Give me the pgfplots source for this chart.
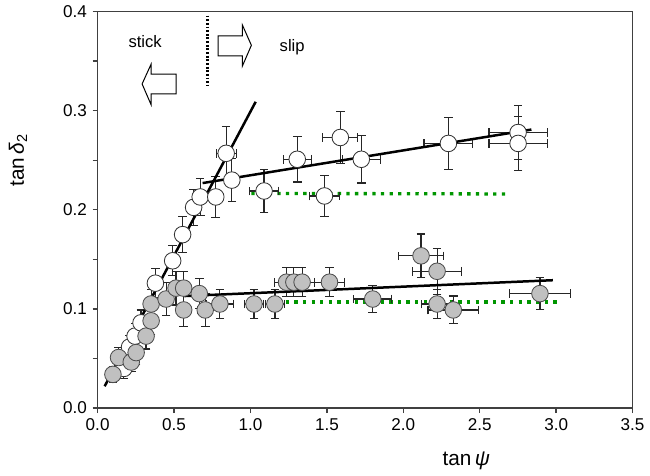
\documentclass[border=0pt]{standalone}
\usepackage{fontspec}
\setmainfont{Liberation Sans}
\usepackage{pgfplots}
\pgfplotsset{compat=1.18}
\definecolor{dotgreen}{RGB}{0,150,0}
\definecolor{markgray}{RGB}{192,192,192}
\definecolor{framegray}{RGB}{64,64,64}

\pgfplotstableread{
x      y       ex     ey
0.172  0.040   0.03   0.010
0.209  0.0616  0.03   0.012
0.245  0.0726  0.03   0.013
0.284  0.086   0.03   0.013
0.378  0.126   0.03   0.015
0.491  0.1486  0.03   0.015
0.556  0.175   0.03   0.018
0.628  0.2025  0.03   0.018
0.671  0.213   0.03   0.019
0.773  0.213   0.03   0.021
0.841  0.257   0.065  0.027
0.878  0.230   0.03   0.022
1.089  0.219   0.094  0.022
1.306  0.251   0.092  0.023
1.484  0.214   0.10   0.021
1.588  0.273   0.114  0.026
1.725  0.251   0.125  0.024
2.295  0.267   0.16   0.026
2.751  0.278   0.19   0.027
2.751  0.267   0.19   0.027
}\opendata

\pgfplotstableread{
x      y       ex     ey
0.10   0.034   0.03   0.008
0.137  0.051   0.03   0.010
0.22   0.0465  0.03   0.010
0.252  0.056   0.03   0.012
0.317  0.0726  0.03   0.013
0.35   0.088   0.03   0.014
0.35   0.105   0.03   0.015
0.448  0.110   0.03   0.017
0.513  0.121   0.03   0.017
0.563  0.121   0.03   0.017
0.563  0.099   0.03   0.017
0.665  0.1155  0.04   0.015
0.704  0.099   0.05   0.017
0.80   0.105   0.087  0.015
1.023  0.105   0.06   0.015
1.16   0.105   0.06   0.015
1.236  0.127   0.08   0.0145
1.284  0.127   0.08   0.0145
1.338  0.127   0.08   0.0145
1.517  0.127   0.10   0.0145
1.80   0.110   0.125  0.014
2.116  0.1536  0.148  0.022
2.221  0.138   0.16   0.023
2.221  0.105   0.10   0.015
2.327  0.099   0.165  0.014
2.894  0.1155  0.20   0.016
}\greydata

\begin{document}
\begin{tikzpicture}
\begin{axis}[
  scale only axis, width=322.2pt, height=238.8pt,
  xmin=0, xmax=3.5, ymin=0, ymax=0.4,
  xtick={0,0.5,1,1.5,2,2.5,3,3.5},
  ytick={0,0.1,0.2,0.3,0.4},
  minor ytick={0.05,0.15,0.25,0.35},
  tick align=outside, tick pos=left,
  major tick length=3pt, minor tick length=3pt,
  axis line style={framegray, line width=0.8pt},
  every tick/.style={framegray, line width=0.8pt},
  tick label style={font=\fontsize{10.3}{12}\selectfont},
  /pgf/number format/assume math mode=true,
  /pgf/number format/.cd, fixed, fixed zerofill, precision=1, /pgfplots/.cd,
  xlabel={tan\,\textit{ψ}},
  ylabel={tan\,\textit{δ}\textsubscript{2}},
  label style={font=\fontsize{12.5}{14}\selectfont},
  xlabel style={at={(axis description cs:0.689,-0.132)}, anchor=center},
  ylabel style={at={(axis description cs:-0.149,0.626)}, anchor=center},
  error bars/error bar style={black!85, line width=0.7pt},
  error bars/error mark options={black!85, rotate=90, mark size=2.6pt, line width=0.7pt},
  errs/.style={only marks, mark=none,
    error bars/.cd, x dir=both, x explicit, y dir=both, y explicit},
]
% green reference levels (behind the points)
\addplot[dotgreen, line width=2pt, dash pattern=on 2pt off 3.2pt] coordinates {(1.006,0.2166) (2.697,0.216)};
\addplot[dotgreen, line width=2pt, dash pattern=on 2pt off 3.2pt] coordinates {(1.23,0.107) (3.01,0.107)};

% error bars first, then the markers on top
\addplot[errs] table[x=x, y=y, x error=ex, y error=ey] {\opendata};
\addplot[errs] table[x=x, y=y, x error=ex, y error=ey] {\greydata};
\addplot[only marks, mark=*, mark size=5pt, mark options={fill=white, draw=black!80, line width=0.5pt}]
  table[x=x, y=y] {\opendata};
\addplot[only marks, mark=*, mark size=5pt, mark options={fill=markgray, draw=black!70, line width=0.5pt}]
  table[x=x, y=y] {\greydata};

% fitted lines
\addplot[black, line width=1.5pt] coordinates {(0.046,0.022) (1.034,0.309)};
\addplot[black, line width=1.5pt] coordinates {(0.687,0.227) (2.838,0.281)};
\addplot[black, line width=1.5pt] coordinates {(0.567,0.113) (2.979,0.129)};

% stick / slip annotation
\draw[black, line width=1.4pt, dash pattern=on 1.1pt off 1.1pt] (axis cs:0.719,0.396) -- (axis cs:0.719,0.325);
\draw[black, line width=0.6pt, fill=white]
  (axis cs:0.291,0.327) -- (axis cs:0.35,0.347) -- (axis cs:0.35,0.337) -- (axis cs:0.513,0.337)
  -- (axis cs:0.513,0.317) -- (axis cs:0.35,0.317) -- (axis cs:0.35,0.306) -- cycle;
\draw[black, line width=0.6pt, fill=white]
  (axis cs:1.006,0.366) -- (axis cs:0.947,0.3865) -- (axis cs:0.947,0.3755) -- (axis cs:0.789,0.3755)
  -- (axis cs:0.789,0.3554) -- (axis cs:0.947,0.3554) -- (axis cs:0.947,0.345) -- cycle;
\node[font=\fontsize{10}{12}\selectfont] at (axis cs:0.311,0.370) {stick};
\node[font=\fontsize{10}{12}\selectfont] at (axis cs:1.273,0.364) {slip};
\coordinate (O) at (rel axis cs:0,0);
\end{axis}
\path (O) ++(-58.8pt,-40.8pt);
\path (O) ++(331.2pt,245.4pt);
\end{tikzpicture}
\end{document}
